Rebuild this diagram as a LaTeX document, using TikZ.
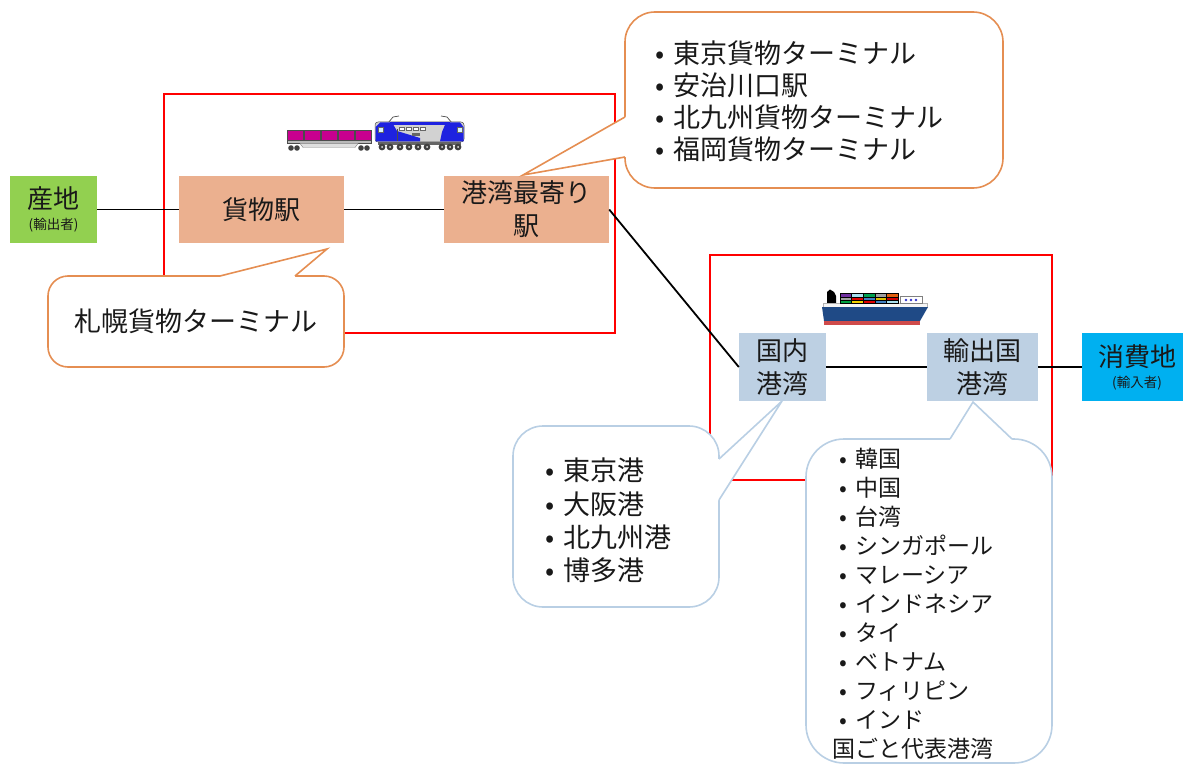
\documentclass[tikz,border=0pt]{standalone}
\usepackage{fontspec}
\setmainfont{Noto Sans CJK JP}
\definecolor{areagreen}{HTML}{92D050}
\definecolor{railsalmon}{HTML}{EBB08F}
\definecolor{portblue}{HTML}{BDD0E3}
\definecolor{marketcyan}{HTML}{00B0F0}
\definecolor{calloutorange}{HTML}{E58E52}
\definecolor{calloutblue}{HTML}{B9CFE4}
\definecolor{wagonmagenta}{HTML}{C8008F}
\definecolor{locoblue}{HTML}{1E22E0}
\definecolor{hullblue}{HTML}{1F4A86}
\definecolor{keelred}{HTML}{CF4A4A}
\newcommand\listdot[1]{\makebox[#1][l]{•}}
\begin{document}
\begin{tikzpicture}[x=1pt, y=-1pt,
  every node/.style={inner sep=0pt, text=black!90},
  frame/.style={draw=red, line width=1.5pt},
  link/.style={draw=black, line width=1.8pt},
  stepbox/.style={align=center, font=\fontsize{26}{33}\selectfont},
  bubble/.style={fill=white, line width=1.6pt},
  bubbleline/.style={line width=1.6pt},
  listtext/.style={anchor=west, align=left}]
\useasboundingbox (0,0) rectangle (1183,765);

% transport segments
\draw[frame] (164,94) rectangle (615,333);
\draw[frame] (710,255) rectangle (1052,480);

% flow of goods
\node[stepbox, fill=areagreen, minimum width=87pt, minimum height=67pt,
      font=\fontsize{26}{21}\selectfont] (origin) at (53.5,209.5)
      {産地\\{\fontsize{13.5}{15}\selectfont(輸出者)}};
\node[stepbox, fill=railsalmon, minimum width=165pt, minimum height=67pt] (freight) at (261.5,209.5) {貨物駅};
\node[stepbox, fill=railsalmon, minimum width=165pt, minimum height=67pt] (portrail) at (526.5,209.5) {港湾最寄り\\駅};
\node[stepbox, fill=portblue, minimum width=87pt, minimum height=68pt] (homeport) at (782.5,367) {国内\\港湾};
\node[stepbox, fill=portblue, minimum width=111pt, minimum height=68pt] (exportport) at (982.5,367) {輸出国\\港湾};
\node[stepbox, fill=marketcyan, minimum width=110pt, minimum height=68pt,
      font=\fontsize{26}{21}\selectfont] (market) at (1137,367)
      {消費地\\{\fontsize{13.5}{15}\selectfont(輸入者)}};

\draw[link] (origin.east) -- (freight.west);
\draw[link] (freight.east) -- (portrail.west);
\draw[link] (portrail.east) -- (homeport.west);
\draw[link] (homeport.east) -- (exportport.west);
\draw[link] (exportport.east) -- (market.west);

% callout: departure terminal
\node[bubble, draw=calloutorange, rounded corners=20pt, minimum width=296pt, minimum height=91pt,
      font=\fontsize{27}{32}\selectfont] (sapporo) at (196,321.5) {札幌貨物ターミナル};
\fill[white] (220,276) -- (327,249) -- (295,276) -- (295,278) -- (220,278) -- cycle;
\draw[bubbleline, calloutorange] (220,276) -- (327,249) -- (295,276);

% callout: terminals near ports
\node[bubble, draw=calloutorange, rounded corners=30pt, minimum width=378pt, minimum height=176pt] (terminals) at (814,100) {};
\fill[white] (625,117) -- (523,175) -- (625,157) -- (627,157) -- (627,117) -- cycle;
\draw[bubbleline, calloutorange] (625,117) -- (523,175) -- (625,157);
\node[listtext, font=\fontsize{27}{32}\selectfont] (terminallist) at (655,101)
  {\listdot{18pt}東京貨物ターミナル\\\listdot{18pt}安治川口駅\\\listdot{18pt}北九州貨物ターミナル\\\listdot{18pt}福岡貨物ターミナル};

% callout: domestic ports
\node[bubble, draw=calloutblue, rounded corners=30pt, minimum width=206pt, minimum height=181pt] (ports) at (616,516.5) {};
\fill[white] (719,459) -- (782,401) -- (719,500) -- (717,500) -- (717,459) -- cycle;
\draw[bubbleline, calloutblue] (719,459) -- (782,401) -- (719,500);
\node[listtext, font=\fontsize{27}{33.3}\selectfont] (portlist) at (545,520.5)
  {\listdot{18pt}東京港\\\listdot{18pt}大阪港\\\listdot{18pt}北九州港\\\listdot{18pt}博多港};

% callout: destination countries
\node[bubble, draw=calloutblue, rounded corners=38pt, minimum width=246pt, minimum height=324pt] (countries) at (929,601) {};
\fill[white] (950,439) -- (973,402) -- (1012,439) -- (1012,441) -- (950,441) -- cycle;
\draw[bubbleline, calloutblue] (950,439) -- (973,402) -- (1012,439);
\node[listtext, font=\fontsize{23}{29}\selectfont] (countrylist) at (832,604)
  {\hspace*{7pt}\listdot{16pt}韓国\\\hspace*{7pt}\listdot{16pt}中国\\\hspace*{7pt}\listdot{16pt}台湾\\
   \hspace*{7pt}\listdot{16pt}シンガポール\\\hspace*{7pt}\listdot{16pt}マレーシア\\\hspace*{7pt}\listdot{16pt}インドネシア\\
   \hspace*{7pt}\listdot{16pt}タイ\\\hspace*{7pt}\listdot{16pt}ベトナム\\\hspace*{7pt}\listdot{16pt}フィリピン\\
   \hspace*{7pt}\listdot{16pt}インド\\国ごと代表港湾};

% freight train: container wagon
\foreach \i in {0,...,4}
  \fill[wagonmagenta, draw=black!70, line width=0.5pt] (287+\i*17,130) rectangle ++(16,10);
\fill[gray!55, draw=black!70, line width=0.5pt] (287,140) rectangle (371,143.5);
\fill[gray!25, draw=black!50, line width=0.4pt] (300,143.5) -- (358,143.5) -- (355,147.5) -- (303,147.5) -- cycle;
\foreach \x in {291,297,361,367} \fill[black!75] (\x,148) circle (2.8pt);
% freight train: locomotive
\draw[black!70, line width=0.7pt] (388,123) -- (393,117) -- (399,116);
\draw[black!70, line width=0.7pt] (452,123) -- (447,117) -- (441,116);
\fill[gray!35, draw=black!70, line width=0.5pt, rounded corners=3pt] (375,122) rectangle (464,142);
\fill[locoblue] (375.5,141.5) -- (375.5,127) -- (380,122.5) -- (392,122.5) -- (397,131) -- (420,138) -- (420,141.5) -- cycle;
\fill[locoblue] (463.5,141.5) -- (463.5,127) -- (460,122.5) -- (446,122.5) -- (442,132) -- (440,141.5) -- cycle;
\fill[locoblue] (390,122.5) rectangle (450,125.5);
\fill[white!85!cyan, draw=black!60, line width=0.3pt] (378,127) rectangle (383,132);
\fill[white!85!cyan, draw=black!60, line width=0.3pt] (457,127) rectangle (462,132);
\foreach \x in {399,406,413,420}
  \fill[white, draw=black!60, line width=0.3pt] (\x,127) rectangle ++(5,3);
\fill[black!60] (412,133) rectangle (420,136);
\draw[black!70, line width=0.6pt] (397,129) -- (397,141);
\fill[black!60] (378,142) rectangle (461,145);
\foreach \x in {382,390,400,409,418,427,442,450,458}
  \fill[black!75] (\x,147) circle (3.4pt);
\foreach \x in {382,390,400,409,418,427,442,450,458}
  \fill[white!80!gray] (\x,147) circle (1pt);

% container ship
\fill[black] (827,303) -- (827,292) -- (830,289.5) -- (834,292) -- (836,296) -- (836,303) -- cycle;
\fill[white!92!gray, draw=gray!60, line width=0.4pt] (823,303) rectangle (927,307);
\fill[hullblue] (822,307) -- (928,307) -- (920,321) -- (824,321) -- cycle;
\fill[keelred] (824,321) rectangle (920,325);
\foreach \c [count=\i from 0] in {7030A0,A8E0F0,00A050,A0A0A0,E06010}
  {\definecolor{box}{HTML}{\c}\fill[box, draw=black, line width=0.3pt] (840+\i*11.6,293) rectangle ++(11.6,3.7);}
\foreach \c [count=\i from 0] in {A0A0A0,E00000,4080C0,E0C000,D00000}
  {\definecolor{box}{HTML}{\c}\fill[box, draw=black, line width=0.3pt] (840+\i*11.6,296.7) rectangle ++(11.6,3.7);}
\foreach \c [count=\i from 0] in {00A040,F0D000,E00000,4080C0,A8E0F0}
  {\definecolor{box}{HTML}{\c}\fill[box, draw=black, line width=0.3pt] (840+\i*11.6,300.4) rectangle ++(11.6,3.2);}
\fill[white, draw=gray, line width=0.5pt] (900,296.5) rectangle (922,303.5);
\foreach \x in {906,911,916} \fill[blue!60!gray] (\x,300) circle (1.4pt);
\end{tikzpicture}
\end{document}
